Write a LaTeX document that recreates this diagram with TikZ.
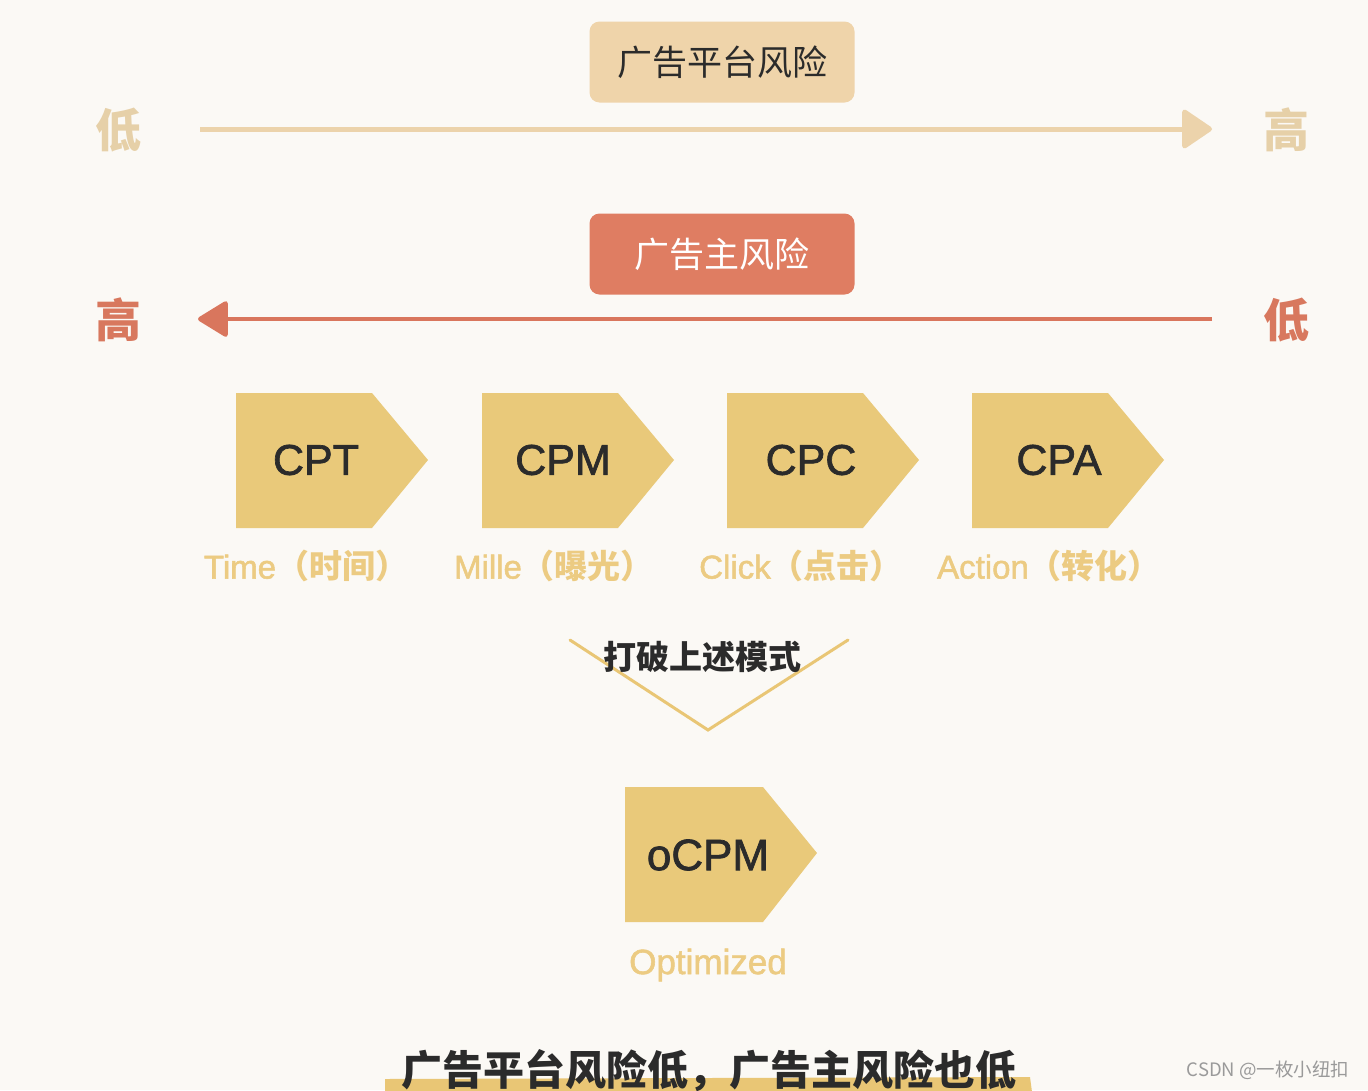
\documentclass[tikz,border=0pt]{standalone}
\usepackage{fontspec}
\setmainfont{Liberation Sans}
\newfontfamily\cjk{Noto Sans CJK SC}
\newfontfamily\lat{Liberation Sans}
\newfontfamily\latm[FakeBold=1.6]{Liberation Sans}
\usetikzlibrary{arrows.meta}
\definecolor{bg}{HTML}{FBF9F5}
\definecolor{tanbox}{HTML}{EFD4AA}
\definecolor{tanline}{HTML}{ECD3AB}
\definecolor{tantext}{HTML}{E6D0A8}
\definecolor{redbox}{HTML}{DF7D62}
\definecolor{redline}{HTML}{D9765D}
\definecolor{redtext}{HTML}{D8785E}
\definecolor{chevc}{HTML}{E9C97A}
\definecolor{labelc}{HTML}{ECCB82}
\definecolor{dark}{HTML}{2B2B2B}
\definecolor{hilite}{HTML}{E9C675}
\definecolor{wm}{HTML}{9A9A9A}
\tikzset{
  riskbox/.style={rounded corners=10pt, minimum width=265pt, minimum height=81pt, inner sep=0pt},
  sidechar/.style={font=\cjk\bfseries\fontsize{46}{48}\selectfont, inner sep=0pt},
  chevfill/.style={fill=chevc},
  chevtext/.style={font=\latm\fontsize{43}{45}\selectfont, text=dark, inner sep=0pt},
  chevlabel/.style={font=\fontsize{33}{35}\selectfont, text=labelc, inner sep=0pt},
}
\begin{document}
\begin{tikzpicture}[x=1pt,y=-1pt]
\useasboundingbox (0,0) rectangle (1368,1090);
\fill[bg] (0,0) rectangle (1368,1090);

% top platform-risk
\node[riskbox, fill=tanbox, text=dark, font=\cjk\fontsize{35}{37}\selectfont] (plat) at (722,62) {广告平台风险};
\node[sidechar, text=tantext] (lowA) at (118,130) {低};
\node[sidechar, text=tantext] (highA) at (1286,130) {高};
\coordinate (ta1) at (200,129);
\coordinate (ta2) at (1212,129);
\draw[tanline, line width=5pt, -{Triangle[length=32pt,width=42pt,round]}] (ta1) -- (ta2);

% advertiser risk
\node[riskbox, fill=redbox, text=white, font=\cjk\fontsize{35}{37}\selectfont] (adv) at (722,254) {广告主风险};
\node[sidechar, text=redtext] (highB) at (118,320) {高};
\node[sidechar, text=redtext] (lowB) at (1286,320) {低};
\coordinate (ra1) at (1212,319);
\coordinate (ra2) at (198,319);
\draw[redline, line width=4.5pt, -{Triangle[length=32pt,width=38pt,round]}] (ra1) -- (ra2);

% chevrons
\foreach \x/\tx/\lx/\name/\lab/\cj/\nm in {236/316/306/CPT/Time/（时间）/c1, 482/563/554/CPM/Mille/（曝光）/c2, 727/811/801/CPC/Click/（点击）/c3, 972/1059/1049/CPA/Action/（转化）/c4}{
  \fill[chevfill] (\x,393) -- (\x+136,393) -- (\x+192,460) -- (\x+136,528) -- (\x,528) -- cycle;
  \node[chevtext] (\nm) at (\tx,460) {\name};
  \node[chevlabel] (\nm l) at (\lx,566) {{\latm\lab}{\cjk\bfseries\cj}};
}

% V connector
\coordinate (v1) at (570,640);
\coordinate (v2) at (708,730);
\coordinate (v3) at (848,640);
\draw[hilite, line width=3pt, line cap=round, line join=miter] (v1) -- (v2) -- (v3);
\node[font=\cjk\bfseries\fontsize{33}{35}\selectfont, text=dark, inner sep=0pt] (brk) at (702,657) {打破上述模式};

% oCPM
\fill[chevfill] (625,787) -- (763,787) -- (817,853) -- (763,922) -- (625,922) -- cycle;
\node[chevtext, font=\latm\fontsize{44}{46}\selectfont] (ocpm) at (708,855) {oCPM};
\node[font=\latm\fontsize{35}{37}\selectfont, text=labelc, inner sep=0pt] (opt) at (708,965) {Optimized};

% bottom conclusion
\fill[hilite] (385,1079) -- (1030,1077) -- (1032,1092) -- (385,1092) -- cycle;
\node[font=\cjk\bfseries\fontsize{41}{43}\selectfont, text=dark, inner sep=0pt] (concl) at (709,1071) {广告平台风险低，广告主风险也低};

% watermark
\node[font=\cjk\fontsize{18.5}{20}\selectfont, text=wm, inner sep=0pt] (wmk) at (1268,1070) {CSDN @一枚小纽扣};
\end{tikzpicture}
\end{document}
